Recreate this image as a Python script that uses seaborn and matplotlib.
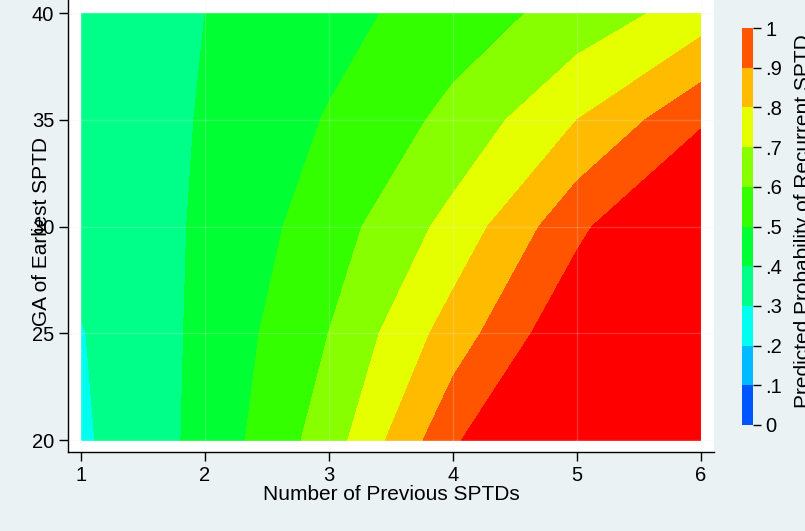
import matplotlib
matplotlib.use("Agg")
import matplotlib.pyplot as plt
import matplotlib as mpl
from matplotlib.colors import ListedColormap, BoundaryNorm
import numpy as np
import seaborn as sns

# grid of the prediction
n_prev = [1, 2, 3, 4, 5, 6]
ga_earliest = [20, 25, 30, 35, 40]

# predicted probability per GA row
prob_ga20 = [0.284, 0.428, 0.650, 0.979, 1.280, 1.600]
prob_ga25 = [0.295, 0.422, 0.601, 0.846, 1.090, 1.350]
prob_ga30 = [0.331, 0.412, 0.552, 0.733, 0.974, 1.190]
prob_ga35 = [0.350, 0.405, 0.507, 0.626, 0.800, 0.982]
prob_ga40 = [0.360, 0.400, 0.465, 0.550, 0.636, 0.748]

cuts = [0, .1, .2, .3, .4, .5, .6, .7, .8, .9, 1.0]
cut_labels = ["0", ".1", ".2", ".3", ".4", ".5", ".6", ".7", ".8", ".9", "1"]
band_colors = ["#0055FF", "#00BBFF", "#00FFEE", "#00FF88", "#00FF33", "#33FF00",
               "#88FF00", "#E5FF00", "#FFBB00", "#FF5500", "#FF0000"]

sns.set_style("white")
plt.rcParams['font.family'] = ['Liberation Sans', 'DejaVu Sans']
plt.rcParams.update({'text.color': 'black', 'axes.labelcolor': 'black',
                     'xtick.color': 'black', 'ytick.color': 'black'})

W, H = 805, 531
fig = plt.figure(figsize=(W / 100, H / 100), dpi=100, facecolor='#EAF2F3')
ax = fig.add_axes([68 / W, 1 - 452 / H, (714 - 68) / W, 452 / H])
ax.set_facecolor('white')

Z = np.array([prob_ga20, prob_ga25, prob_ga30, prob_ga35, prob_ga40])
ax.contourf(n_prev, ga_earliest, Z, levels=cuts + [2.0], colors=band_colors)

ax.set_xlim(0.895, 6.105)
ax.set_ylim(19.44, 40.61)
ax.set_xticks(n_prev)
ax.set_yticks(ga_earliest)
ax.grid(True, color='#EAF2F3', lw=1, alpha=0.2)
ax.set_axisbelow(False)

sns.despine(ax=ax)
for s in ['left', 'bottom']:
    ax.spines[s].set_color('black')
    ax.spines[s].set_linewidth(1)
ax.tick_params(axis='both', direction='out', length=6.5, width=1, color='black',
               labelcolor='black', pad=3.5, labelsize=14.5, left=True, bottom=True)

ax.set_xlabel("Number of Previous SPTDs", fontsize=15, labelpad=0)
ax.set_ylabel("GA of Earliest SPTD", fontsize=15)
ax.yaxis.label.set_va('center')
ax.yaxis.set_label_coords((41 - 68) / (714 - 68), 1 - 231 / 452)

# colour legend
cax = fig.add_axes([742 / W, 1 - 425 / H, 11 / W, 397 / H])
cb = mpl.colorbar.ColorbarBase(cax, cmap=ListedColormap(band_colors[:10]),
                               norm=BoundaryNorm(cuts, 10), ticks=cuts)
cb.outline.set_visible(False)
cb.set_ticklabels(cut_labels)
cax.tick_params(length=6, width=1, color='black', labelcolor='black', pad=3,
                labelsize=14.5)

fig.text(803 / W, 1 - 408 / H, "Predicted Probability of Recurrent SPTD",
         rotation=90, ha='center', va='bottom', fontsize=15, color='black')

fig.savefig("out.png", dpi=100, facecolor=fig.get_facecolor())
